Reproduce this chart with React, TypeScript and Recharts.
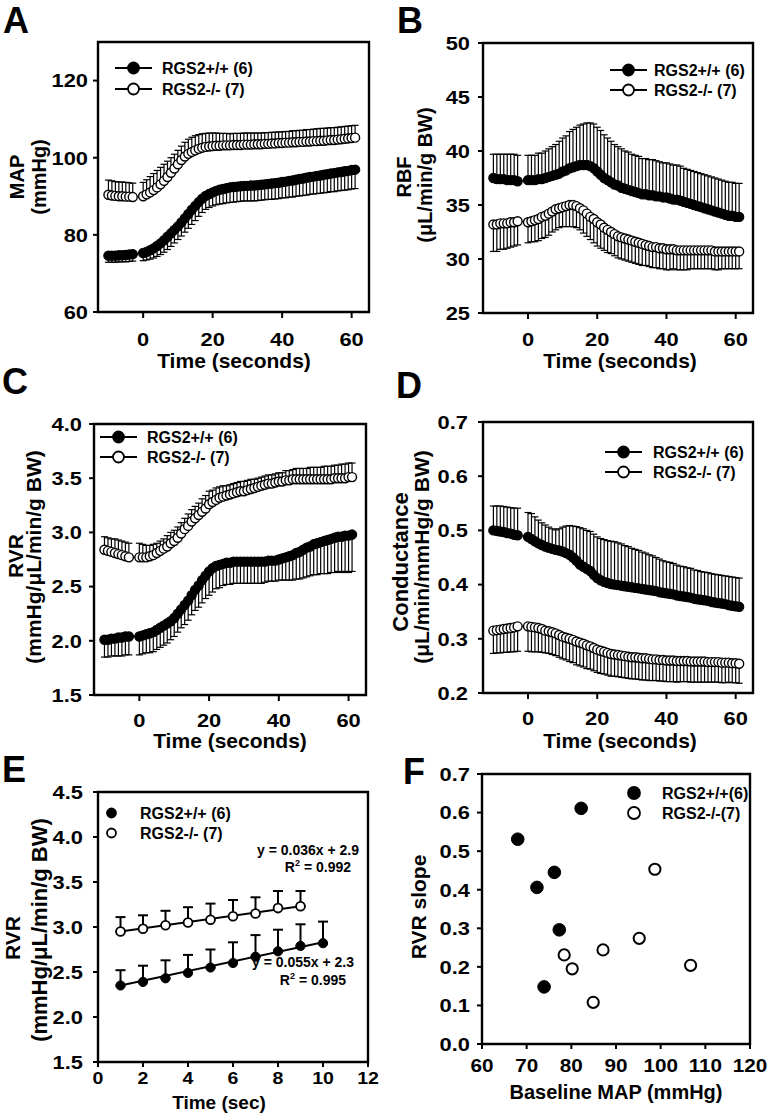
import React from "react";
import {
  ComposedChart,
  ScatterChart,
  Line,
  Scatter,
  ErrorBar,
  XAxis,
  YAxis,
  ReferenceArea,
} from "recharts";

// ---------- data ----------
const TIME = [
  -10, -9, -8, -7, -6, -5, -4, -3,
  0, 1, 2, 3, 4, 5, 6, 7, 8, 9,
  10, 11, 12, 13, 14, 15, 16, 17, 18, 19,
  20, 21, 22, 23, 24, 25, 26, 27, 28, 29,
  30, 31, 32, 33, 34, 35, 36, 37, 38, 39,
  40, 41, 42, 43, 44, 45, 46, 47, 48, 49,
  50, 51, 52, 53, 54, 55, 56, 57, 58, 59,
  60, 61,
];

const MAP_WT = [
  74.6, 74.6, 74.6, 74.7, 74.7, 74.8, 74.9, 75.0,
  75.3, 75.6, 76.0, 76.5, 77.1, 77.8, 78.6, 79.5, 80.4, 81.3,
  82.2, 83.2, 84.3, 85.4, 86.5, 87.5, 88.5, 89.4, 90.1, 90.6,
  91.0, 91.4, 91.7, 91.9, 92.1, 92.3, 92.4, 92.5, 92.6, 92.7,
  92.7, 92.8, 92.8, 92.9, 93.0, 93.1, 93.2, 93.3, 93.4, 93.5,
  93.7, 93.8, 94.0, 94.1, 94.3, 94.5, 94.6, 94.8, 95.0, 95.1,
  95.3, 95.4, 95.6, 95.7, 95.9, 96.0, 96.2, 96.3, 96.5, 96.6,
  96.8, 96.9,
];
const MAP_WT_SEM = [
  1.7, 1.7, 1.7, 1.7, 1.7, 1.8, 1.8, 1.8,
  2.0, 2.1, 2.3, 2.5, 2.7, 2.9, 3.1, 3.3, 3.4, 3.4,
  3.4, 3.5, 3.6, 3.7, 3.8, 3.8, 3.7, 3.6, 3.5, 3.5,
  3.5, 3.6, 3.7, 3.8, 3.8, 3.9, 3.9, 3.9, 3.9, 3.9,
  3.9, 4.0, 4.0, 4.0, 4.0, 4.0, 4.0, 4.1, 4.1, 4.1,
  4.1, 4.2, 4.2, 4.3, 4.3, 4.4, 4.4, 4.5, 4.5, 4.5,
  4.6, 4.6, 4.7, 4.7, 4.7, 4.8, 4.8, 4.8, 4.9, 4.9,
  4.9, 4.9,
];
const MAP_KO = [
  90.4, 90.2, 90.1, 90.0, 90.0, 89.9, 89.9, 89.8,
  90.0, 90.5, 91.0, 91.6, 92.3, 93.1, 94.0, 95.0, 96.1, 97.2,
  98.3, 99.4, 100.3, 101.0, 101.5, 101.9, 102.3, 102.6, 102.8, 102.9,
  103.0, 103.1, 103.1, 103.2, 103.2, 103.2, 103.3, 103.3, 103.3, 103.4,
  103.4, 103.4, 103.5, 103.5, 103.5, 103.6, 103.6, 103.7, 103.7, 103.8,
  103.8, 103.9, 103.9, 104.0, 104.0, 104.1, 104.1, 104.2, 104.2, 104.3,
  104.3, 104.4, 104.4, 104.5, 104.6, 104.6, 104.7, 104.8, 104.9, 105.0,
  105.1, 105.2,
];
const MAP_KO_SEM = [
  3.8, 3.8, 3.7, 3.7, 3.7, 3.7, 3.6, 3.6,
  3.6, 3.8, 4.1, 4.3, 4.4, 4.4, 4.3, 4.1, 3.9, 3.7,
  3.6, 3.6, 3.7, 3.8, 3.8, 3.8, 3.7, 3.6, 3.5, 3.5,
  3.4, 3.3, 3.2, 3.1, 3.1, 3.0, 3.0, 3.0, 3.0, 3.0,
  3.0, 3.0, 2.9, 2.9, 2.9, 2.9, 2.9, 2.9, 2.9, 2.9,
  2.9, 2.9, 2.9, 3.0, 3.0, 3.0, 3.0, 3.1, 3.1, 3.1,
  3.2, 3.2, 3.2, 3.2, 3.2, 3.2, 3.2, 3.2, 3.2, 3.2,
  3.2, 3.2,
];

const RBF_WT = [
  37.5, 37.4, 37.4, 37.4, 37.3, 37.3, 37.3, 37.2,
  37.3, 37.3, 37.3, 37.4, 37.4, 37.5, 37.6, 37.7, 37.8, 37.9,
  38.1, 38.2, 38.4, 38.5, 38.6, 38.7, 38.7, 38.7, 38.6, 38.4,
  38.1, 37.8, 37.5, 37.3, 37.1, 36.9, 36.8, 36.6, 36.5, 36.4,
  36.3, 36.2, 36.1, 36.0, 36.0, 35.9, 35.9, 35.8, 35.8, 35.7,
  35.7, 35.6, 35.5, 35.5, 35.4, 35.3, 35.2, 35.1, 35.0, 34.9,
  34.8, 34.7, 34.6, 34.5, 34.4, 34.3, 34.2, 34.1, 34.0, 34.0,
  33.9, 33.9,
];
const RBF_WT_SEM = [
  2.2, 2.3, 2.3, 2.3, 2.4, 2.4, 2.4, 2.4,
  2.3, 2.3, 2.3, 2.4, 2.4, 2.5, 2.6, 2.7, 2.8, 3.0,
  3.1, 3.2, 3.4, 3.5, 3.6, 3.7, 3.8, 3.9, 4.0, 4.1,
  4.1, 4.1, 4.0, 3.9, 3.8, 3.7, 3.6, 3.6, 3.5, 3.5,
  3.4, 3.4, 3.4, 3.3, 3.3, 3.3, 3.3, 3.3, 3.2, 3.2,
  3.2, 3.2, 3.2, 3.2, 3.2, 3.1, 3.1, 3.1, 3.1, 3.1,
  3.1, 3.1, 3.1, 3.1, 3.1, 3.1, 3.1, 3.1, 3.1, 3.1,
  3.1, 3.1,
];
const RBF_KO = [
  33.2, 33.2, 33.3, 33.3, 33.3, 33.4, 33.4, 33.5,
  33.4, 33.5, 33.6, 33.7, 33.9, 34.0, 34.2, 34.4, 34.6, 34.7,
  34.8, 34.9, 35.0, 35.0, 34.9, 34.7, 34.5, 34.2, 33.9, 33.7,
  33.4, 33.2, 32.9, 32.7, 32.5, 32.3, 32.1, 32.0, 31.9, 31.8,
  31.7, 31.6, 31.5, 31.4, 31.3, 31.2, 31.1, 31.1, 31.0, 31.0,
  30.9, 30.9, 30.9, 30.8, 30.8, 30.8, 30.8, 30.8, 30.8, 30.8,
  30.8, 30.8, 30.8, 30.8, 30.7, 30.7, 30.7, 30.7, 30.7, 30.7,
  30.7, 30.7,
];
const RBF_KO_SEM = [
  2.5, 2.5, 2.4, 2.4, 2.3, 2.3, 2.2, 2.2,
  1.9, 1.9, 2.0, 2.0, 2.0, 2.0, 2.0, 1.9, 1.9, 1.8,
  1.8, 1.9, 2.0, 2.0, 2.0, 2.0, 2.1, 2.1, 2.1, 2.2,
  2.2, 2.2, 2.1, 2.1, 2.0, 2.0, 2.0, 2.0, 2.0, 2.0,
  2.0, 2.0, 2.0, 2.0, 1.9, 1.9, 1.9, 1.9, 1.9, 1.9,
  1.9, 1.9, 1.8, 1.8, 1.8, 1.8, 1.8, 1.7, 1.7, 1.7,
  1.7, 1.7, 1.7, 1.7, 1.7, 1.7, 1.6, 1.6, 1.6, 1.6,
  1.6, 1.6,
];

const RVR_WT = [
  2.01, 2.01, 2.02, 2.02, 2.03, 2.03, 2.04, 2.04,
  2.04, 2.05, 2.06, 2.07, 2.08, 2.10, 2.12, 2.14, 2.16, 2.18,
  2.21, 2.25, 2.29, 2.33, 2.37, 2.42, 2.47, 2.51, 2.56, 2.60,
  2.64, 2.67, 2.69, 2.70, 2.71, 2.72, 2.72, 2.73, 2.73, 2.73,
  2.73, 2.73, 2.73, 2.73, 2.73, 2.73, 2.73, 2.74, 2.74, 2.74,
  2.75, 2.76, 2.77, 2.78, 2.79, 2.81, 2.82, 2.84, 2.86, 2.87,
  2.89, 2.90, 2.91, 2.92, 2.93, 2.94, 2.95, 2.96, 2.96, 2.97,
  2.97, 2.98,
];
const RVR_WT_SEM = [
  0.16, 0.16, 0.16, 0.16, 0.17, 0.17, 0.17, 0.17,
  0.17, 0.17, 0.17, 0.18, 0.18, 0.18, 0.18, 0.18, 0.18, 0.17,
  0.17, 0.17, 0.17, 0.18, 0.18, 0.18, 0.19, 0.20, 0.21, 0.21,
  0.22, 0.22, 0.21, 0.21, 0.20, 0.20, 0.20, 0.20, 0.20, 0.20,
  0.20, 0.20, 0.20, 0.20, 0.20, 0.20, 0.19, 0.19, 0.19, 0.19,
  0.19, 0.20, 0.21, 0.22, 0.23, 0.24, 0.25, 0.26, 0.27, 0.27,
  0.28, 0.29, 0.29, 0.30, 0.31, 0.31, 0.32, 0.32, 0.33, 0.33,
  0.34, 0.34,
];
const RVR_KO = [
  2.84, 2.83, 2.82, 2.81, 2.80, 2.79, 2.78, 2.77,
  2.77, 2.77, 2.77, 2.78, 2.79, 2.81, 2.83, 2.85, 2.87, 2.90,
  2.92, 2.95, 2.99, 3.03, 3.06, 3.10, 3.13, 3.16, 3.19, 3.22,
  3.26, 3.28, 3.30, 3.32, 3.33, 3.34, 3.35, 3.36, 3.37, 3.38,
  3.38, 3.39, 3.40, 3.41, 3.42, 3.43, 3.44, 3.45, 3.45, 3.46,
  3.47, 3.47, 3.48, 3.48, 3.49, 3.49, 3.49, 3.49, 3.49, 3.49,
  3.49, 3.49, 3.49, 3.49, 3.49, 3.49, 3.50, 3.50, 3.50, 3.50,
  3.51, 3.51,
];
const RVR_KO_SEM = [
  0.12, 0.12, 0.12, 0.13, 0.13, 0.13, 0.13, 0.13,
  0.13, 0.12, 0.11, 0.10, 0.10, 0.09, 0.09, 0.09, 0.10, 0.10,
  0.10, 0.10, 0.10, 0.10, 0.11, 0.11, 0.11, 0.11, 0.12, 0.12,
  0.12, 0.11, 0.11, 0.10, 0.10, 0.09, 0.09, 0.09, 0.09, 0.09,
  0.09, 0.09, 0.09, 0.08, 0.08, 0.08, 0.08, 0.08, 0.08, 0.08,
  0.08, 0.08, 0.09, 0.09, 0.09, 0.10, 0.10, 0.10, 0.10, 0.11,
  0.11, 0.11, 0.11, 0.12, 0.12, 0.12, 0.12, 0.12, 0.13, 0.13,
  0.13, 0.13,
];

const COND_WT = [
  0.500, 0.499, 0.498, 0.497, 0.495, 0.494, 0.492, 0.491,
  0.488, 0.484, 0.480, 0.476, 0.473, 0.470, 0.468, 0.466, 0.464, 0.463,
  0.461, 0.458, 0.455, 0.450, 0.444, 0.437, 0.433, 0.429, 0.425, 0.418,
  0.412, 0.408, 0.405, 0.403, 0.401, 0.400, 0.399, 0.398, 0.397, 0.396,
  0.395, 0.394, 0.393, 0.392, 0.391, 0.390, 0.389, 0.388, 0.386, 0.385,
  0.384, 0.383, 0.382, 0.380, 0.379, 0.378, 0.377, 0.376, 0.374, 0.373,
  0.372, 0.371, 0.370, 0.368, 0.367, 0.366, 0.365, 0.364, 0.362, 0.361,
  0.360, 0.359,
];
const COND_WT_SEM = [
  0.045, 0.046, 0.047, 0.047, 0.048, 0.048, 0.049, 0.050,
  0.045, 0.047, 0.045, 0.043, 0.041, 0.040, 0.038, 0.037, 0.037, 0.040,
  0.045, 0.050, 0.054, 0.058, 0.063, 0.068, 0.070, 0.071, 0.073, 0.075,
  0.076, 0.077, 0.078, 0.078, 0.079, 0.079, 0.078, 0.077, 0.075, 0.074,
  0.072, 0.071, 0.070, 0.068, 0.067, 0.065, 0.064, 0.062, 0.061, 0.059,
  0.058, 0.058, 0.057, 0.056, 0.055, 0.055, 0.054, 0.054, 0.053, 0.053,
  0.052, 0.052, 0.052, 0.052, 0.052, 0.052, 0.052, 0.052, 0.053, 0.053,
  0.053, 0.053,
];
const COND_KO = [
  0.315, 0.316, 0.317, 0.318, 0.319, 0.320, 0.321, 0.323,
  0.323, 0.322, 0.321, 0.320, 0.318, 0.315, 0.314, 0.312, 0.310, 0.307,
  0.304, 0.302, 0.300, 0.298, 0.295, 0.293, 0.291, 0.288, 0.286, 0.283,
  0.280, 0.278, 0.276, 0.274, 0.272, 0.271, 0.270, 0.269, 0.268, 0.267,
  0.266, 0.266, 0.265, 0.264, 0.264, 0.263, 0.262, 0.262, 0.261, 0.261,
  0.260, 0.260, 0.260, 0.259, 0.259, 0.259, 0.259, 0.258, 0.258, 0.258,
  0.258, 0.258, 0.257, 0.257, 0.257, 0.257, 0.256, 0.256, 0.256, 0.255,
  0.255, 0.254,
];
const COND_KO_SEM = [
  0.042, 0.042, 0.043, 0.043, 0.044, 0.044, 0.045, 0.046,
  0.046, 0.046, 0.045, 0.044, 0.043, 0.041, 0.041, 0.041, 0.041, 0.041,
  0.041, 0.041, 0.042, 0.042, 0.043, 0.043, 0.043, 0.043, 0.042, 0.042,
  0.042, 0.042, 0.041, 0.041, 0.041, 0.040, 0.040, 0.040, 0.040, 0.040,
  0.040, 0.040, 0.040, 0.040, 0.040, 0.040, 0.039, 0.039, 0.039, 0.039,
  0.039, 0.039, 0.039, 0.039, 0.038, 0.038, 0.038, 0.038, 0.038, 0.038,
  0.038, 0.038, 0.037, 0.037, 0.037, 0.037, 0.037, 0.037, 0.036, 0.036,
  0.036, 0.036,
];

// panel E: first 10 s
const E_TIME_WT = [1, 2, 3, 4, 5, 6, 7, 8, 9, 10];
const E_RVR_WT = [2.35, 2.39, 2.43, 2.49, 2.55, 2.60, 2.67, 2.73, 2.79, 2.82];
const E_RVR_WT_SEM = [0.17, 0.18, 0.2, 0.2, 0.2, 0.23, 0.24, 0.24, 0.24, 0.24];
const E_TIME_KO = [1, 2, 3, 4, 5, 6, 7, 8, 9];
const E_RVR_KO = [2.95, 2.98, 3.02, 3.05, 3.08, 3.12, 3.15, 3.21, 3.23];
const E_RVR_KO_SEM = [0.16, 0.15, 0.16, 0.17, 0.18, 0.18, 0.18, 0.19, 0.17];
const E_FIT_WT_X = [1, 10];
const E_FIT_WT_Y = [2.35, 2.83];
const E_FIT_KO_X = [1, 9];
const E_FIT_KO_Y = [2.95, 3.23];

// panel F: individual animals
const F_MAP_WT = [68.0, 82.2, 76.2, 72.3, 77.3, 73.9];
const F_SLOPE_WT = [0.531, 0.611, 0.445, 0.406, 0.296, 0.148];
const F_MAP_KO = [98.7, 95.2, 87.1, 78.4, 80.2, 84.9, 106.7];
const F_SLOPE_KO = [0.453, 0.274, 0.244, 0.231, 0.195, 0.108, 0.204];

const LEGEND_LABELS = ["RGS2+/+ (6)", "RGS2-/- (7)"];
const F_LEGEND_LABELS = ["RGS2+/+(6)", "RGS2-/-(7)"];

// ---------- styling ----------
const FONT = '"Liberation Sans", Arial, Helvetica, sans-serif';
const TICK_SX = 1.15;
const AXIS_COLOR = "#000";

type Frame = { x: number; y: number; w: number; h: number };

const fmt1 = (v: number) => v.toFixed(1);
const fmt0 = (v: number) => String(v);

function xTick(f: (v: number) => string, fs = 19) {
  return (p: any) => (
    <text
      transform={`translate(${p.x},${p.y}) scale(${TICK_SX},1)`}
      dy="0.72em"
      textAnchor="middle"
      fontFamily={FONT}
      fontWeight={700}
      fontSize={fs}
      fill="#000"
    >
      {f(p.payload.value)}
    </text>
  );
}

function yTick(f: (v: number) => string, fs = 19) {
  return (p: any) => (
    <text
      transform={`translate(${p.x},${p.y}) scale(${TICK_SX},1)`}
      dy="0.36em"
      textAnchor="end"
      fontFamily={FONT}
      fontWeight={700}
      fontSize={fs}
      fill="#000"
    >
      {f(p.payload.value)}
    </text>
  );
}

const TICK_LINE = { stroke: AXIS_COLOR, strokeWidth: 2 };
const CHART_MARGIN = { top: 10, right: 30, left: 0, bottom: 0 };

interface TimePanelProps {
  frame: Frame;
  yDomain: [number, number];
  yTicks: number[];
  yFmt: (v: number) => string;
  wt: number[];
  wtSem: number[];
  ko: number[];
  koSem: number[];
  wtUp: boolean;
  yGap: number;
  xGap: number;
}

function TimePanel({ frame, yDomain, yTicks, yFmt, wt, wtSem, ko, koSem, wtUp, yGap, xGap }: TimePanelProps) {
  const rows = TIME.map((t, i) => ({
    t,
    wt: wt[i],
    ko: ko[i],
    wtE: wtUp ? [0, wtSem[i]] : [wtSem[i], 0],
    koE: wtUp ? [koSem[i], 0] : [0, koSem[i]],
  }));
  return (
    <div style={{ position: "absolute", left: frame.x - 70, top: frame.y - 10 }}>
      <ComposedChart width={frame.w + 100} height={frame.h + 60} data={rows} margin={CHART_MARGIN}>
        <XAxis
          dataKey="t"
          type="number"
          domain={[-13, 65]}
          ticks={[0, 20, 40, 60]}
          allowDataOverflow
          interval={0}
          height={50}
          axisLine={false}
          tickLine={TICK_LINE}
          tickSize={6}
          tickMargin={xGap - 6}
          tick={xTick(fmt0)}
        />
        <YAxis
          type="number"
          domain={yDomain}
          ticks={yTicks}
          allowDataOverflow
          interval={0}
          width={70}
          axisLine={false}
          tickLine={TICK_LINE}
          tickSize={5}
          tickMargin={yGap - 5}
          tick={yTick(yFmt)}
        />
        <ReferenceArea
          x1={-13}
          x2={65}
          y1={yDomain[0]}
          y2={yDomain[1]}
          fill="none"
          stroke="#000"
          strokeWidth={2.4}
          ifOverflow="visible"
        />
        <Line dataKey="wt" stroke="none" dot={false} activeDot={false} isAnimationActive={false}>
          <ErrorBar dataKey="wtE" width={3.5} stroke="#000" strokeWidth={1.2} isAnimationActive={false} />
        </Line>
        <Line dataKey="ko" stroke="none" dot={false} activeDot={false} isAnimationActive={false}>
          <ErrorBar dataKey="koE" width={3.5} stroke="#000" strokeWidth={1.2} isAnimationActive={false} />
        </Line>
        <Line
          dataKey="wt"
          stroke="#000"
          strokeWidth={1}
          dot={{ r: 4.6, fill: "#000", stroke: "#000", strokeWidth: 1.2 }}
          activeDot={false}
          isAnimationActive={false}
        />
        <Line
          dataKey="ko"
          stroke="#000"
          strokeWidth={1}
          dot={{ r: 4.5, fill: "#fff", stroke: "#000", strokeWidth: 1.4 }}
          activeDot={false}
          isAnimationActive={false}
        />
      </ComposedChart>
    </div>
  );
}

function PanelE({ frame }: { frame: Frame }) {
  const wtRows = E_TIME_WT.map((x, i) => ({ x, y: E_RVR_WT[i], e: [0, E_RVR_WT_SEM[i]] }));
  const koRows = E_TIME_KO.map((x, i) => ({ x, y: E_RVR_KO[i], e: [0, E_RVR_KO_SEM[i]] }));
  const wtFit = E_FIT_WT_X.map((x, i) => ({ x, y: E_FIT_WT_Y[i] }));
  const koFit = E_FIT_KO_X.map((x, i) => ({ x, y: E_FIT_KO_Y[i] }));
  return (
    <div style={{ position: "absolute", left: frame.x - 70, top: frame.y - 10 }}>
      <ComposedChart width={frame.w + 100} height={frame.h + 60} margin={CHART_MARGIN}>
        <XAxis
          dataKey="x"
          type="number"
          domain={[0, 12]}
          ticks={[0, 2, 4, 6, 8, 10, 12]}
          allowDataOverflow
          interval={0}
          height={50}
          axisLine={false}
          tickLine={TICK_LINE}
          tickSize={5}
          tickMargin={5}
          tick={xTick(fmt0, 17)}
        />
        <YAxis
          type="number"
          domain={[1.5, 4.5]}
          ticks={[1.5, 2, 2.5, 3, 3.5, 4, 4.5]}
          allowDataOverflow
          interval={0}
          width={70}
          axisLine={false}
          tickLine={TICK_LINE}
          tickSize={5}
          tickMargin={10}
          tick={yTick(fmt1)}
        />
        <ReferenceArea x1={0} x2={12} y1={1.5} y2={4.5} fill="none" stroke="#000" strokeWidth={2.4} ifOverflow="visible" />
        <Line data={wtFit} dataKey="y" stroke="#000" strokeWidth={2} dot={false} activeDot={false} isAnimationActive={false} />
        <Line data={koFit} dataKey="y" stroke="#000" strokeWidth={2} dot={false} activeDot={false} isAnimationActive={false} />
        <Line
          data={wtRows}
          dataKey="y"
          stroke="none"
          dot={{ r: 4.6, fill: "#000", stroke: "#000", strokeWidth: 1 }}
          activeDot={false}
          isAnimationActive={false}
        >
          <ErrorBar dataKey="e" width={5} stroke="#000" strokeWidth={2} isAnimationActive={false} />
        </Line>
        <Line
          data={koRows}
          dataKey="y"
          stroke="none"
          dot={{ r: 4.4, fill: "#fff", stroke: "#000", strokeWidth: 1.8 }}
          activeDot={false}
          isAnimationActive={false}
        >
          <ErrorBar dataKey="e" width={5} stroke="#000" strokeWidth={2} isAnimationActive={false} />
        </Line>
      </ComposedChart>
    </div>
  );
}

function PanelF({ frame }: { frame: Frame }) {
  const wt = F_MAP_WT.map((x, i) => ({ x, y: F_SLOPE_WT[i] }));
  const ko = F_MAP_KO.map((x, i) => ({ x, y: F_SLOPE_KO[i] }));
  const dot = (filled: boolean) => (p: any) => (
    <circle cx={p.cx} cy={p.cy} r={filled ? 6.3 : 5.6} fill={filled ? "#000" : "#fff"} stroke="#000" strokeWidth={filled ? 1 : 2} />
  );
  return (
    <div style={{ position: "absolute", left: frame.x - 70, top: frame.y - 10 }}>
      <ScatterChart width={frame.w + 100} height={frame.h + 60} margin={CHART_MARGIN}>
        <XAxis
          dataKey="x"
          type="number"
          domain={[60, 120]}
          ticks={[60, 70, 80, 90, 100, 110, 120]}
          allowDataOverflow
          interval={0}
          height={50}
          axisLine={false}
          tickLine={TICK_LINE}
          tickSize={5}
          tickMargin={10}
          tick={xTick(fmt0, 18)}
        />
        <YAxis
          dataKey="y"
          type="number"
          domain={[0, 0.7]}
          ticks={[0, 0.1, 0.2, 0.3, 0.4, 0.5, 0.6, 0.7]}
          allowDataOverflow
          interval={0}
          width={70}
          axisLine={false}
          tickLine={TICK_LINE}
          tickSize={5}
          tickMargin={7}
          tick={yTick(fmt1)}
        />
        <ReferenceArea x1={60} x2={120} y1={0} y2={0.7} fill="none" stroke="#000" strokeWidth={2.4} ifOverflow="visible" />
        <Scatter data={wt} shape={dot(true)} isAnimationActive={false} />
        <Scatter data={ko} shape={dot(false)} isAnimationActive={false} />
      </ScatterChart>
    </div>
  );
}

// ---------- overlay texts ----------
function Letter({ x, y, c }: { x: number; y: number; c: string }) {
  return (
    <text x={x} y={y} fontFamily={FONT} fontWeight={700} fontSize={36} fill="#000">
      {c}
    </text>
  );
}

function XTitle({ x, y, s, size = 21 }: { x: number; y: number; s: string; size?: number }) {
  return (
    <text x={x} y={y} textAnchor="middle" fontFamily={FONT} fontWeight={700} fontSize={size} fill="#000">
      {s}
    </text>
  );
}

function YTitle({ x, y, s, size = 20 }: { x: number; y: number; s: string; size?: number }) {
  return (
    <text
      transform={`translate(${x},${y}) rotate(-90)`}
      textAnchor="middle"
      fontFamily={FONT}
      fontWeight={700}
      fontSize={size}
      fill="#000"
    >
      {s}
    </text>
  );
}

interface LegendProps {
  cx: number;
  tx: number;
  y1: number;
  y2: number;
  r: number;
  half?: number;
  labels: string[];
  size?: number;
}

function LegendBlock({ cx, tx, y1, y2, r, half = 0, labels, size = 16 }: LegendProps) {
  return (
    <g>
      {[y1, y2].map((y, i) => (
        <g key={i}>
          {half > 0 && <line x1={cx - half} x2={cx + half} y1={y} y2={y} stroke="#000" strokeWidth={2} />}
          <circle cx={cx} cy={y} r={r} fill={i === 0 ? "#000" : "#fff"} stroke="#000" strokeWidth={1.8} />
          <text x={tx} y={y} dy="0.36em" fontFamily={FONT} fontWeight={700} fontSize={size} fill="#000">
            {labels[i]}
          </text>
        </g>
      ))}
    </g>
  );
}

function Equation({ x, y1, y2, eq, r2 }: { x: number; y1: number; y2: number; eq: string; r2: string }) {
  return (
    <g fontFamily={FONT} fontWeight={700} fontSize={14} fill="#000">
      <text x={x} y={y1} textAnchor="end">
        {eq}
      </text>
      <text x={x - 8} y={y2} textAnchor="end">
        R<tspan dy={-6} fontSize={9}>2</tspan>
        <tspan dy={6}>{` = ${r2}`}</tspan>
      </text>
    </g>
  );
}

const FRAME_A: Frame = { x: 98, y: 42, w: 271, h: 270 };
const FRAME_B: Frame = { x: 483, y: 43, w: 270, h: 270 };
const FRAME_C: Frame = { x: 94, y: 424, w: 272, h: 271 };
const FRAME_D: Frame = { x: 483, y: 422, w: 270, h: 271 };
const FRAME_E: Frame = { x: 98, y: 792, w: 270, h: 270 };
const FRAME_F: Frame = { x: 482, y: 774, w: 268, h: 270 };

export default function App() {
  return (
    <div style={{ position: "absolute", left: 0, top: 0, width: 771, height: 1119, background: "#fff", overflow: "hidden" }}>
      <TimePanel
        frame={FRAME_A}
        yDomain={[60, 130]}
        yTicks={[60, 80, 100, 120]}
        yFmt={fmt0}
        wt={MAP_WT}
        wtSem={MAP_WT_SEM}
        ko={MAP_KO}
        koSem={MAP_KO_SEM}
        wtUp={false}
        yGap={10}
        xGap={20}
      />
      <TimePanel
        frame={FRAME_B}
        yDomain={[25, 50]}
        yTicks={[25, 30, 35, 40, 45, 50]}
        yFmt={fmt0}
        wt={RBF_WT}
        wtSem={RBF_WT_SEM}
        ko={RBF_KO}
        koSem={RBF_KO_SEM}
        wtUp={true}
        yGap={13}
        xGap={19}
      />
      <TimePanel
        frame={FRAME_C}
        yDomain={[1.5, 4.0]}
        yTicks={[1.5, 2.0, 2.5, 3.0, 3.5, 4.0]}
        yFmt={fmt1}
        wt={RVR_WT}
        wtSem={RVR_WT_SEM}
        ko={RVR_KO}
        koSem={RVR_KO_SEM}
        wtUp={false}
        yGap={12}
        xGap={18}
      />
      <TimePanel
        frame={FRAME_D}
        yDomain={[0.2, 0.7]}
        yTicks={[0.2, 0.3, 0.4, 0.5, 0.6, 0.7]}
        yFmt={fmt1}
        wt={COND_WT}
        wtSem={COND_WT_SEM}
        ko={COND_KO}
        koSem={COND_KO_SEM}
        wtUp={true}
        yGap={15}
        xGap={18}
      />
      <PanelE frame={FRAME_E} />
      <PanelF frame={FRAME_F} />

      <svg
        width={771}
        height={1119}
        style={{ position: "absolute", left: 0, top: 0, pointerEvents: "none" }}
      >
        <Letter x={3} y={33} c="A" />
        <Letter x={397} y={33} c="B" />
        <Letter x={2} y={394} c="C" />
        <Letter x={396} y={398} c="D" />
        <Letter x={2} y={782} c="E" />
        <Letter x={403} y={784} c="F" />

        <XTitle x={234} y={368} s="Time (seconds)" />
        <XTitle x={620} y={368} s="Time (seconds)" />
        <XTitle x={230} y={748} s="Time (seconds)" />
        <XTitle x={620} y={748} s="Time (seconds)" />
        <XTitle x={219} y={1109} s="Time (sec)" size={19} />
        <XTitle x={616} y={1099} s="Baseline MAP (mmHg)" size={20} />

        <YTitle x={24} y={177} s="MAP" />
        <YTitle x={46} y={177} s="(mmHg)" />
        <YTitle x={411} y={177} s="RBF" />
        <YTitle x={432} y={175} s="(μL/min/g BW)" />
        <YTitle x={23} y={556} s="RVR" size={21} />
        <YTitle x={41} y={557} s="(mmHg/μL/min/g BW)" size={21} />
        <YTitle x={408} y={562} s="Conductance" size={22} />
        <YTitle x={429} y={557} s="(μL/min/mmHg/g BW)" size={21} />
        <YTitle x={20} y={938} s="RVR" size={21} />
        <YTitle x={47} y={930} s="(mmHg/μL/min/g BW)" size={22} />
        <YTitle x={426} y={907} s="RVR slope" size={21} />

        <LegendBlock cx={133.5} half={18.5} tx={162} y1={68} y2={89} r={5.5} labels={LEGEND_LABELS} />
        <LegendBlock cx={628.5} half={18.5} tx={654} y1={70} y2={90} r={5.5} labels={LEGEND_LABELS} />
        <LegendBlock cx={118.5} half={18.5} tx={147} y1={437} y2={457} r={5.5} labels={LEGEND_LABELS} />
        <LegendBlock cx={623.5} half={18.5} tx={653} y1={452} y2={472} r={5.5} labels={LEGEND_LABELS} />
        <LegendBlock cx={111.5} tx={140} y1={813} y2={833} r={4.5} labels={LEGEND_LABELS} />
        <LegendBlock cx={634} tx={662} y1={793} y2={813} r={6} labels={F_LEGEND_LABELS} />

        <Equation x={359} y1={855} y2={872} eq="y = 0.036x + 2.9" r2="0.992" />
        <Equation x={354} y1={967} y2={985} eq="y = 0.055x + 2.3" r2="0.995" />
      </svg>
    </div>
  );
}
